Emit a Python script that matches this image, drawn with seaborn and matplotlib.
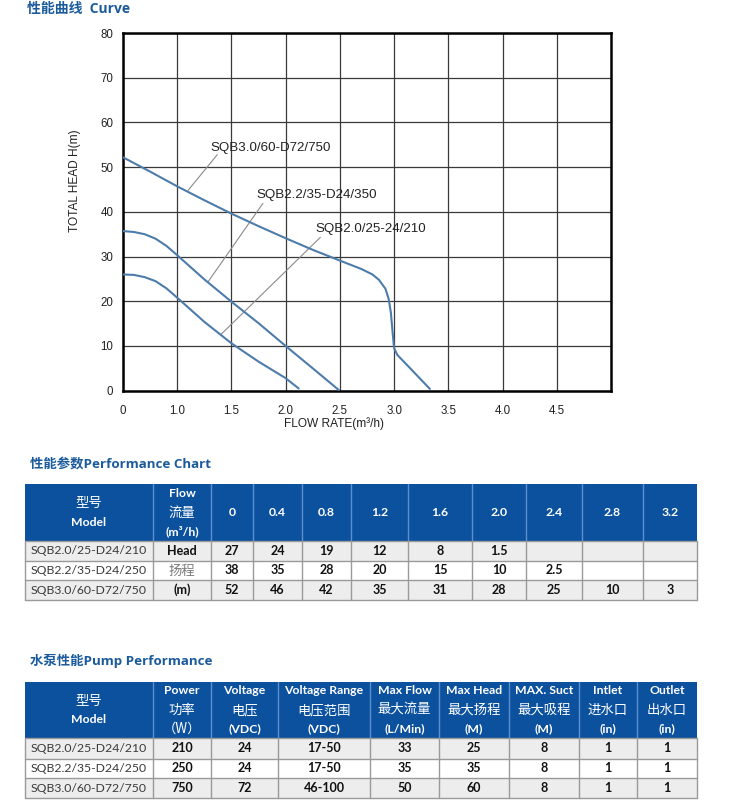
import numpy as np
import pandas as pd
import matplotlib
matplotlib.use("Agg")
import matplotlib.pyplot as plt
import seaborn as sns
from matplotlib.patches import Rectangle

# ---------------- data ----------------
curve_models = ["SQB3.0/60-D72/750", "SQB2.2/35-D24/350", "SQB2.0/25-24/210"]
flow_sqb30 = [0.5, 0.75, 1.0, 1.25, 1.5, 1.75, 2.0, 2.25, 2.5, 2.7, 2.8, 2.86, 2.92, 2.95, 2.97, 2.99, 3.0, 3.03, 3.33]
head_sqb30 = [52.2, 49.0, 45.7, 42.6, 39.6, 36.8, 34.1, 31.5, 29.1, 27.2, 26.0, 24.8, 22.8, 20.5, 17.5, 12.0, 9.5, 8.0, 0.4]
flow_sqb22 = [0.5, 0.6, 0.7, 0.8, 0.9, 1.0, 1.25, 1.5, 1.75, 2.0, 2.25, 2.49]
head_sqb22 = [35.7, 35.5, 35.0, 34.0, 32.4, 30.3, 24.9, 19.9, 15.1, 10.0, 5.0, 0.15]
flow_sqb20 = [0.5, 0.6, 0.7, 0.8, 0.9, 1.0, 1.25, 1.5, 1.75, 2.0, 2.12]
head_sqb20 = [26.0, 25.9, 25.4, 24.5, 22.9, 20.8, 15.4, 10.6, 6.5, 2.8, 0.5]

x_tick_labels = ["0", "1.0", "1.5", "2.0", "2.5", "3.0", "3.5", "4.0", "4.5"]
y_tick_values = [0, 10, 20, 30, 40, 50, 60, 70, 80]

table_models = ["SQB2.0/25-D24/210", "SQB2.2/35-D24/250", "SQB3.0/60-D72/750"]
flow_columns = ["0", "0.4", "0.8", "1.2", "1.6", "2.0", "2.4", "2.8", "3.2"]
head_unit_cells = ["Head", "扬程", "(m)"]
head_sqb20_row = ["27", "24", "19", "12", "8", "1.5", "", "", ""]
head_sqb22_row = ["38", "35", "28", "20", "15", "10", "2.5", "", ""]
head_sqb30_row = ["52", "46", "42", "35", "31", "28", "25", "10", "3"]

pump_headers = [["型号", "Model"], ["Power", "功率", "（W）"], ["Voltage", "电压", "(VDC)"],
                ["Voltage Range", "电压范围", "(VDC)"], ["Max Flow", "最大流量", "(L/Min)"],
                ["Max Head", "最大扬程", "(M)"], ["MAX. Suct", "最大吸程", "(M)"],
                ["Intlet", "进水口", "(in)"], ["Outlet", "出水口", "(in)"]]
power_w = ["210", "250", "750"]
voltage_vdc = ["24", "24", "72"]
voltage_range = ["17-50", "17-50", "46-100"]
max_flow = ["33", "35", "50"]
max_head = ["25", "35", "60"]
max_suct = ["8", "8", "8"]
inlet_in = ["1", "1", "1"]
outlet_in = ["1", "1", "1"]

# ---------------- style ----------------
sns.set_theme(style="white")
plt.rcParams["font.family"] = ["Liberation Sans", "Noto Sans CJK SC", "DejaVu Sans"]
CJK = ["Lato", "Noto Sans CJK SC", "DejaVu Sans"]
TITLE_BLUE = "#1b5b9c"
HEAD_BLUE = "#0b519e"
CURVE = "#4d7cab"

fig = plt.figure(figsize=(7.5, 8), dpi=100)
W, H = 750, 800

def fx(px):
    return px / W

def fy(py):
    return 1 - py / H

def has_cjk(s):
    return any(ord(ch) > 0x2E80 for ch in s)

# ---------------- curve chart ----------------
ax = fig.add_axes([fx(123), fy(390.7), (611 - 123) / W, (390.7 - 33) / H])
df = pd.concat([
    pd.DataFrame({"flow": flow_sqb30, "head": head_sqb30, "model": curve_models[0]}),
    pd.DataFrame({"flow": flow_sqb22, "head": head_sqb22, "model": curve_models[1]}),
    pd.DataFrame({"flow": flow_sqb20, "head": head_sqb20, "model": curve_models[2]}),
])
sns.lineplot(data=df, x="flow", y="head", hue="model", palette=[CURVE] * 3,
             estimator=None, sort=False, legend=False, lw=1.5, ax=ax, zorder=3)
ax.set_xlim(0.5, 5.0)
ax.set_ylim(0, 80)
ax.set_xticks(np.arange(0.5, 5.0, 0.5))
ax.set_xticklabels(x_tick_labels)
ax.set_yticks(y_tick_values)
ax.set_yticklabels([str(v) for v in y_tick_values])
ax.grid(True, color="#3a3a3a", lw=0.9)
ax.tick_params(length=0, labelsize=8.3, colors="#222222", pad=7)
ax.tick_params(axis="x", pad=10)
for s in ax.spines.values():
    s.set_visible(True)
    s.set_color("black")
    s.set_linewidth(1.8)
ax.set_xlabel("")
ax.set_ylabel("")

# annotations with leader lines
ann = [
    (curve_models[0], (1.10, 44.8), (1.37, 52.8), (1.31, 54.3)),
    (curve_models[1], (1.28, 24.2), (1.79, 41.9), (1.73, 43.7)),
    (curve_models[2], (1.40, 12.5), (2.32, 34.3), (2.27, 36.1)),
]
for name, p0, p1, tp in ann:
    ax.plot([p0[0], p1[0]], [p0[1], p1[1]], color="#8a8a8a", lw=0.8, zorder=2)
    ax.text(tp[0], tp[1], name, ha="left", va="center", fontsize=9.6, color="#222222", zorder=4)

fig.text(fx(75), fy(181), "TOTAL HEAD H(m)", rotation=90, ha="center", va="center",
         fontsize=8.6, color="#222222")
fig.text(fx(334), fy(423.5), "FLOW RATE(m³/h)", ha="center", va="center",
         fontsize=8.6, color="#222222")
fig.text(fx(27), fy(9), "性能曲线  Curve", ha="left", va="center", fontsize=10,
         fontweight="bold", color=TITLE_BLUE, family=["Open Sans", "Noto Sans CJK SC"])

# ---------------- tables ----------------
tax = fig.add_axes([0, 0, 1, 1])
tax.set_xlim(0, W)
tax.set_ylim(H, 0)
tax.axis("off")

def draw_table(col_edges, top, hbot, row_edges, headers, body, body_styles):
    # header
    tax.add_patch(Rectangle((col_edges[0], top), col_edges[-1] - col_edges[0], hbot - top,
                            facecolor=HEAD_BLUE, edgecolor="none", zorder=1))
    for xe in col_edges[1:-1]:
        tax.plot([xe, xe], [top, hbot], color="#5d8fcf", lw=1.0, zorder=2)
    hmid = (top + hbot) / 2
    for i, lines in enumerate(headers):
        cx = (col_edges[i] + col_edges[i + 1]) / 2
        n = len(lines)
        step = 19
        for j, t in enumerate(lines):
            yy = hmid + (j - (n - 1) / 2) * step
            if has_cjk(t):
                tax.text(cx, yy, t, ha="center", va="center", color="white", fontsize=9.6,
                         fontweight="medium", family=["Noto Sans CJK SC"], zorder=3)
            else:
                tax.text(cx, yy, t, ha="center", va="center", color="white", fontsize=8.8,
                         fontweight="bold", family=CJK, zorder=3)
    # body
    fills = ["#ededed", "#ffffff", "#ededed"]
    for r in range(len(row_edges) - 1):
        y0, y1 = row_edges[r], row_edges[r + 1]
        tax.add_patch(Rectangle((col_edges[0], y0), col_edges[-1] - col_edges[0], y1 - y0,
                                facecolor=fills[r], edgecolor="none", zorder=1))
    for ye in row_edges:
        tax.plot([col_edges[0], col_edges[-1]], [ye, ye], color="#9a9a9a", lw=1.0, zorder=2)
    for xe in col_edges:
        tax.plot([xe, xe], [row_edges[0], row_edges[-1]], color="#9a9a9a", lw=1.0, zorder=2)
    for i, col in enumerate(body):
        cx = (col_edges[i] + col_edges[i + 1]) / 2
        for r, t in enumerate(col):
            cy = (row_edges[r] + row_edges[r + 1]) / 2
            st = body_styles[i][r] if isinstance(body_styles[i], list) else body_styles[i]
            if st == "model":
                tax.text(cx, cy, t, ha="center", va="center", fontsize=8.8, color="#3a3a3a",
                         family=CJK, zorder=3)
            elif st == "light":
                tax.text(cx, cy, t, ha="center", va="center", fontsize=9.6, color="#7a7a7a",
                         family=["Noto Sans CJK SC"], zorder=3)
            else:
                tax.text(cx, cy, t, ha="center", va="center", fontsize=9.0, color="#111111",
                         fontweight="bold", family=CJK, zorder=3)

# table 1
fig.text(fx(30), fy(464), "性能参数Performance Chart", ha="left", va="center", fontsize=9.6,
         fontweight="bold", color=TITLE_BLUE, family=["Open Sans", "Noto Sans CJK SC"])
cols1 = [25, 153, 211, 253, 302, 351, 408, 472, 526, 582, 643, 697]
headers1 = [["型号", "Model"], ["Flow", "流量", "(m³/h)"]] + [[c] for c in flow_columns]
head_rows = [head_sqb20_row, head_sqb22_row, head_sqb30_row]
body1 = [table_models, head_unit_cells] + [[head_rows[r][c] for r in range(3)] for c in range(len(flow_columns))]
styles1 = ["model", ["bold", "light", "bold"]] + ["bold"] * len(flow_columns)
draw_table(cols1, 484, 541, [541, 561, 580, 600], headers1, body1, styles1)

# table 2
fig.text(fx(30), fy(661), "水泵性能Pump Performance", ha="left", va="center", fontsize=9.6,
         fontweight="bold", color=TITLE_BLUE, family=["Open Sans", "Noto Sans CJK SC"])
cols2 = [25, 153, 211, 278, 370, 439, 509, 579, 637, 697]
body2 = [table_models, power_w, voltage_vdc, voltage_range, max_flow, max_head, max_suct, inlet_in, outlet_in]
styles2 = ["model"] + ["bold"] * 8
draw_table(cols2, 682, 738, [738, 759, 778, 798], pump_headers, body2, styles2)

fig.savefig("out.png", dpi=100, facecolor="white")
